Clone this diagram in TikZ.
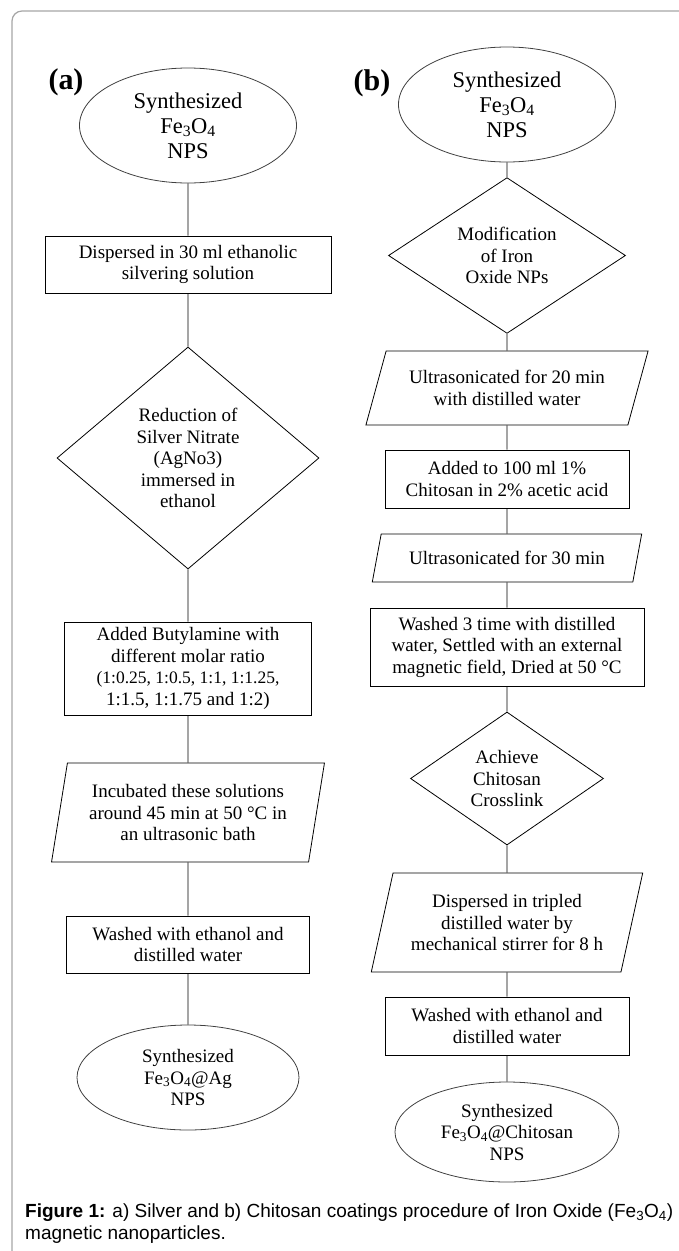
\documentclass[tikz,border=0pt]{standalone}
\usepackage{fontspec}
\setmainfont{Liberation Serif}
\newfontfamily\capfont{Liberation Sans}
\usetikzlibrary{shapes.geometric}

\begin{document}
\begin{tikzpicture}[x=1pt,y=-1pt]
            \tikzstyle{every node}+=[inner sep=0pt, align=center, font=\fontsize{19}{21.5}\selectfont]
            \tikzstyle{procbox}=[draw, rectangle, line width=0.9pt]
            \tikzstyle{decision}=[draw, diamond, line width=0.8pt]
            \tikzstyle{iobox}=[draw, trapezium, trapezium stretches=true, line width=0.8pt]
            \tikzstyle{terminal}=[draw=black!75, ellipse, line width=0.8pt]
            \useasboundingbox (0,0) rectangle (678,1251);
            \draw [black!35, line width=1.2pt, rounded corners=10pt] (12,1265) -- (12,11) -- (690,11);
            \node (lbla) at (66,82) {\fontsize{30}{30}\selectfont\bfseries (a)};
            \node (lblb) at (372,83) {\fontsize{30}{30}\selectfont\bfseries (b)};
            % silver coating
            \node [terminal, minimum width=217pt, minimum height=115pt, font=\fontsize{22.5}{25}\selectfont] (a1) at (188,125.5) {Synthesized\\Fe\textsubscript{3}O\textsubscript{4}\\NPS};
            \node [procbox, minimum width=286pt, minimum height=57pt] (a2) at (188,264.5) {Dispersed in 30 ml ethanolic\\silvering solution};
            \node [decision, minimum width=262pt, minimum height=222pt] (a3) at (188,458) {Reduction of\\Silver Nitrate\\(AgNo3)\\immersed in\\ethanol};
            \node [procbox, minimum width=247pt, minimum height=93pt] (a4) at (188,668.5) {Added Butylamine with\\different molar ratio\\\fontsize{17.5}{19.5}\selectfont(1:0.25, 1:0.5, 1:1, 1:1.25,\\1:1.5, 1:1.75 and 1:2)};
            \node [iobox, trapezium left angle=77, trapezium right angle=103, minimum width=273pt, minimum height=99pt] (a5) at (188,812.5) {Incubated these solutions\\around 45 min at 50 °C in\\an ultrasonic bath};
            \node [procbox, minimum width=243pt, minimum height=57pt] (a6) at (188,944.5) {Washed with ethanol and\\distilled water};
            \node [terminal, minimum width=222pt, minimum height=105pt] (a7) at (188,1077.5) {Synthesized\\Fe\textsubscript{3}O\textsubscript{4}@Ag\\NPS};
            % chitosan coating
            \node [terminal, minimum width=217pt, minimum height=115pt, font=\fontsize{22.5}{25}\selectfont] (b1) at (507,104.5) {Synthesized\\Fe\textsubscript{3}O\textsubscript{4}\\NPS};
            \node [decision, minimum width=237pt, minimum height=135pt] (b2) at (507,255.5) {Modification\\of Iron\\Oxide NPs};
            \node [iobox, trapezium left angle=65, trapezium right angle=115, minimum width=283pt, minimum height=74pt] (b3) at (507,388) {Ultrasonicated for 20 min\\with distilled water};
            \node [procbox, minimum width=244pt, minimum height=58pt] (b4) at (507,479) {Added to 100 ml 1\%\\Chitosan in 2\% acetic acid};
            \node [iobox, trapezium left angle=63, trapezium right angle=117, minimum width=270pt, minimum height=48pt] (b5) at (507,558) {Ultrasonicated for 30 min};
            \node [procbox, minimum width=274pt, minimum height=78pt] (b6) at (507,647) {Washed 3 time with distilled\\water, Settled with an external\\magnetic field, Dried at 50 °C};
            \node [decision, minimum width=193pt, minimum height=133pt] (b7) at (507,778.5) {Achieve\\Chitosan\\Crosslink};
            \node [iobox, trapezium left angle=72, trapezium right angle=108, minimum width=272pt, minimum height=99pt] (b8) at (507,922.5) {Dispersed in tripled\\distilled water by\\mechanical stirrer for 8 h};
            \node [procbox, minimum width=244pt, minimum height=58pt] (b9) at (507,1026) {Washed with ethanol and\\distilled water};
            \node [terminal, minimum width=224pt, minimum height=100pt] (b10) at (507,1132) {Synthesized\\Fe\textsubscript{3}O\textsubscript{4}@Chitosan\\NPS};
            \draw [line width=0.9pt] (a1) -- (a2) -- (a3) -- (a4) -- (a5) -- (a6) -- (a7);
            \draw [line width=0.9pt] (b1) -- (b2) -- (b3) -- (b4) -- (b5) -- (b6) -- (b7) -- (b8) -- (b9) -- (b10);
            \node [anchor=base west, font=\capfont\fontsize{19}{22}\selectfont] (cap1) at (25,1217) {\textbf{Figure 1:} a) Silver and b) Chitosan coatings procedure of Iron Oxide (Fe\textsubscript{3}O\textsubscript{4})};
            \node [anchor=base west, font=\capfont\fontsize{19}{22}\selectfont] (cap2) at (25,1239) {magnetic nanoparticles.};
        \end{tikzpicture}
\end{document}
